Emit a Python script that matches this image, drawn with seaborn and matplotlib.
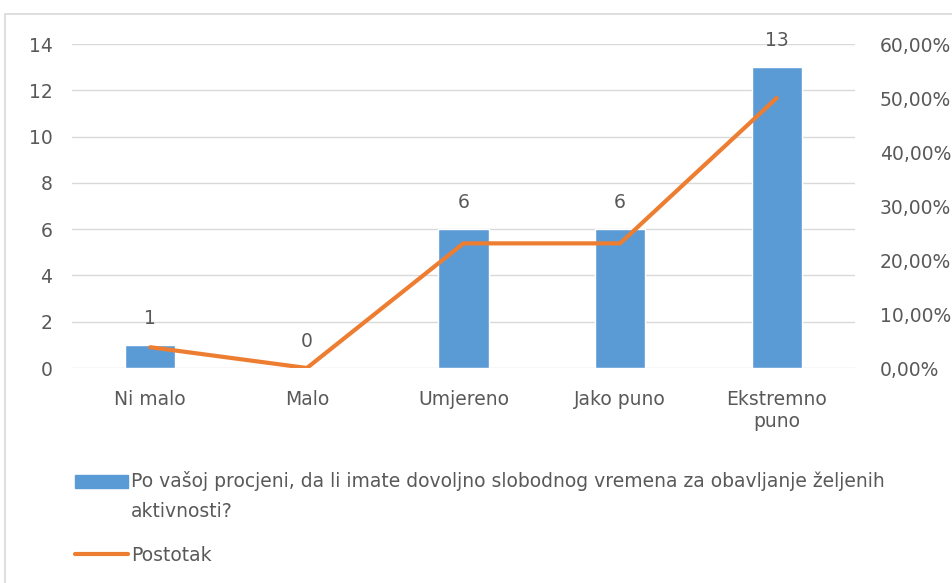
import matplotlib
matplotlib.use("Agg")
import matplotlib.pyplot as plt
from matplotlib.patches import Rectangle
from matplotlib.legend_handler import HandlerPatch
from matplotlib.ticker import FuncFormatter
import pandas as pd
import seaborn as sns

# Data
categories = ["Ni malo", "Malo", "Umjereno", "Jako puno", "Ekstremno\npuno"]
counts = [1, 0, 6, 6, 13]
percent = [0.0385, 0.0, 0.2308, 0.2308, 0.50]
bar_label = ("Po vašoj procjeni, da li imate dovoljno slobodnog vremena za obavljanje željenih\n"
             "aktivnosti?")
line_label = "Postotak"

df = pd.DataFrame({"cat": categories, "count": counts, "pct": percent})

sns.set_style("white")
plt.rcParams["font.family"] = ["DejaVu Sans"]
txt = "#595959"
grid = "#d9d9d9"
blue = "#5B9BD5"
orange = "#ED7D31"
fs = 13.5

fig = plt.figure(figsize=(9.53, 5.83), dpi=100)
ax = fig.add_axes([72 / 953, 1 - 368 / 583, (855 - 72) / 953, (368 - 44) / 583])

sns.barplot(data=df, x="cat", y="count", color=blue, width=0.32, ax=ax,
            saturation=1, zorder=2)
ax.set_ylim(0, 14)
ax.set_yticks(range(0, 15, 2))
ax.yaxis.grid(True, color=grid, linewidth=1, zorder=0)
ax.set_xlabel("")
ax.set_ylabel("")
for s in ax.spines.values():
    s.set_visible(False)
ax.tick_params(axis="both", length=0, labelsize=fs, labelcolor=txt)
ax.tick_params(axis="y", pad=14)
ax.tick_params(axis="x", pad=16)
ax.bar_label(ax.containers[0], padding=12, fontsize=fs, color=txt)

ax2 = ax.twinx()
sns.lineplot(x=df["cat"], y=df["pct"], ax=ax2, color=orange, linewidth=3,
             sort=False, zorder=3)
ax2.set_ylim(0, 0.6)
ax2.set_yticks([0, 0.1, 0.2, 0.3, 0.4, 0.5, 0.6])
ax2.yaxis.set_major_formatter(FuncFormatter(lambda v, p: f"{v * 100:.2f}%".replace(".", ",")))
ax2.set_ylabel("")
ax2.set_xlabel("")
for s in ax2.spines.values():
    s.set_visible(False)
ax2.tick_params(axis="y", length=0, labelsize=fs, labelcolor=txt, pad=18)
ax.set_xlim(-0.5, len(categories) - 0.5)


# legend: patch aligned with the first line of the wrapped label
def top_patch(legend, orig_handle, xdescent, ydescent, width, height, fontsize):
    return Rectangle((-xdescent, -ydescent + 11.2), width, height)


bar_handle = Rectangle((0, 0), 1, 1, color=blue)
line_handle = plt.Line2D([0], [0], color=orange, linewidth=3)
leg = fig.legend([bar_handle, line_handle], [bar_label, line_label],
                 loc="upper left", bbox_to_anchor=(66 / 953, 1 - 462 / 583),
                 frameon=False, fontsize=fs, labelcolor=txt, borderpad=0,
                 handlelength=2.8, handletextpad=0.15, labelspacing=1.33,
                 handler_map={Rectangle: HandlerPatch(patch_func=top_patch)})
for t in leg.get_texts():
    t.set_linespacing(1.7)

# light chart border (cropped on right and bottom)
fig.patches.append(Rectangle((5 / 953, -0.1), 1.2, 1.1 - 14 / 583,
                             transform=fig.transFigure, fill=False,
                             edgecolor=grid, linewidth=1.2))

fig.savefig("out.png", dpi=100)
